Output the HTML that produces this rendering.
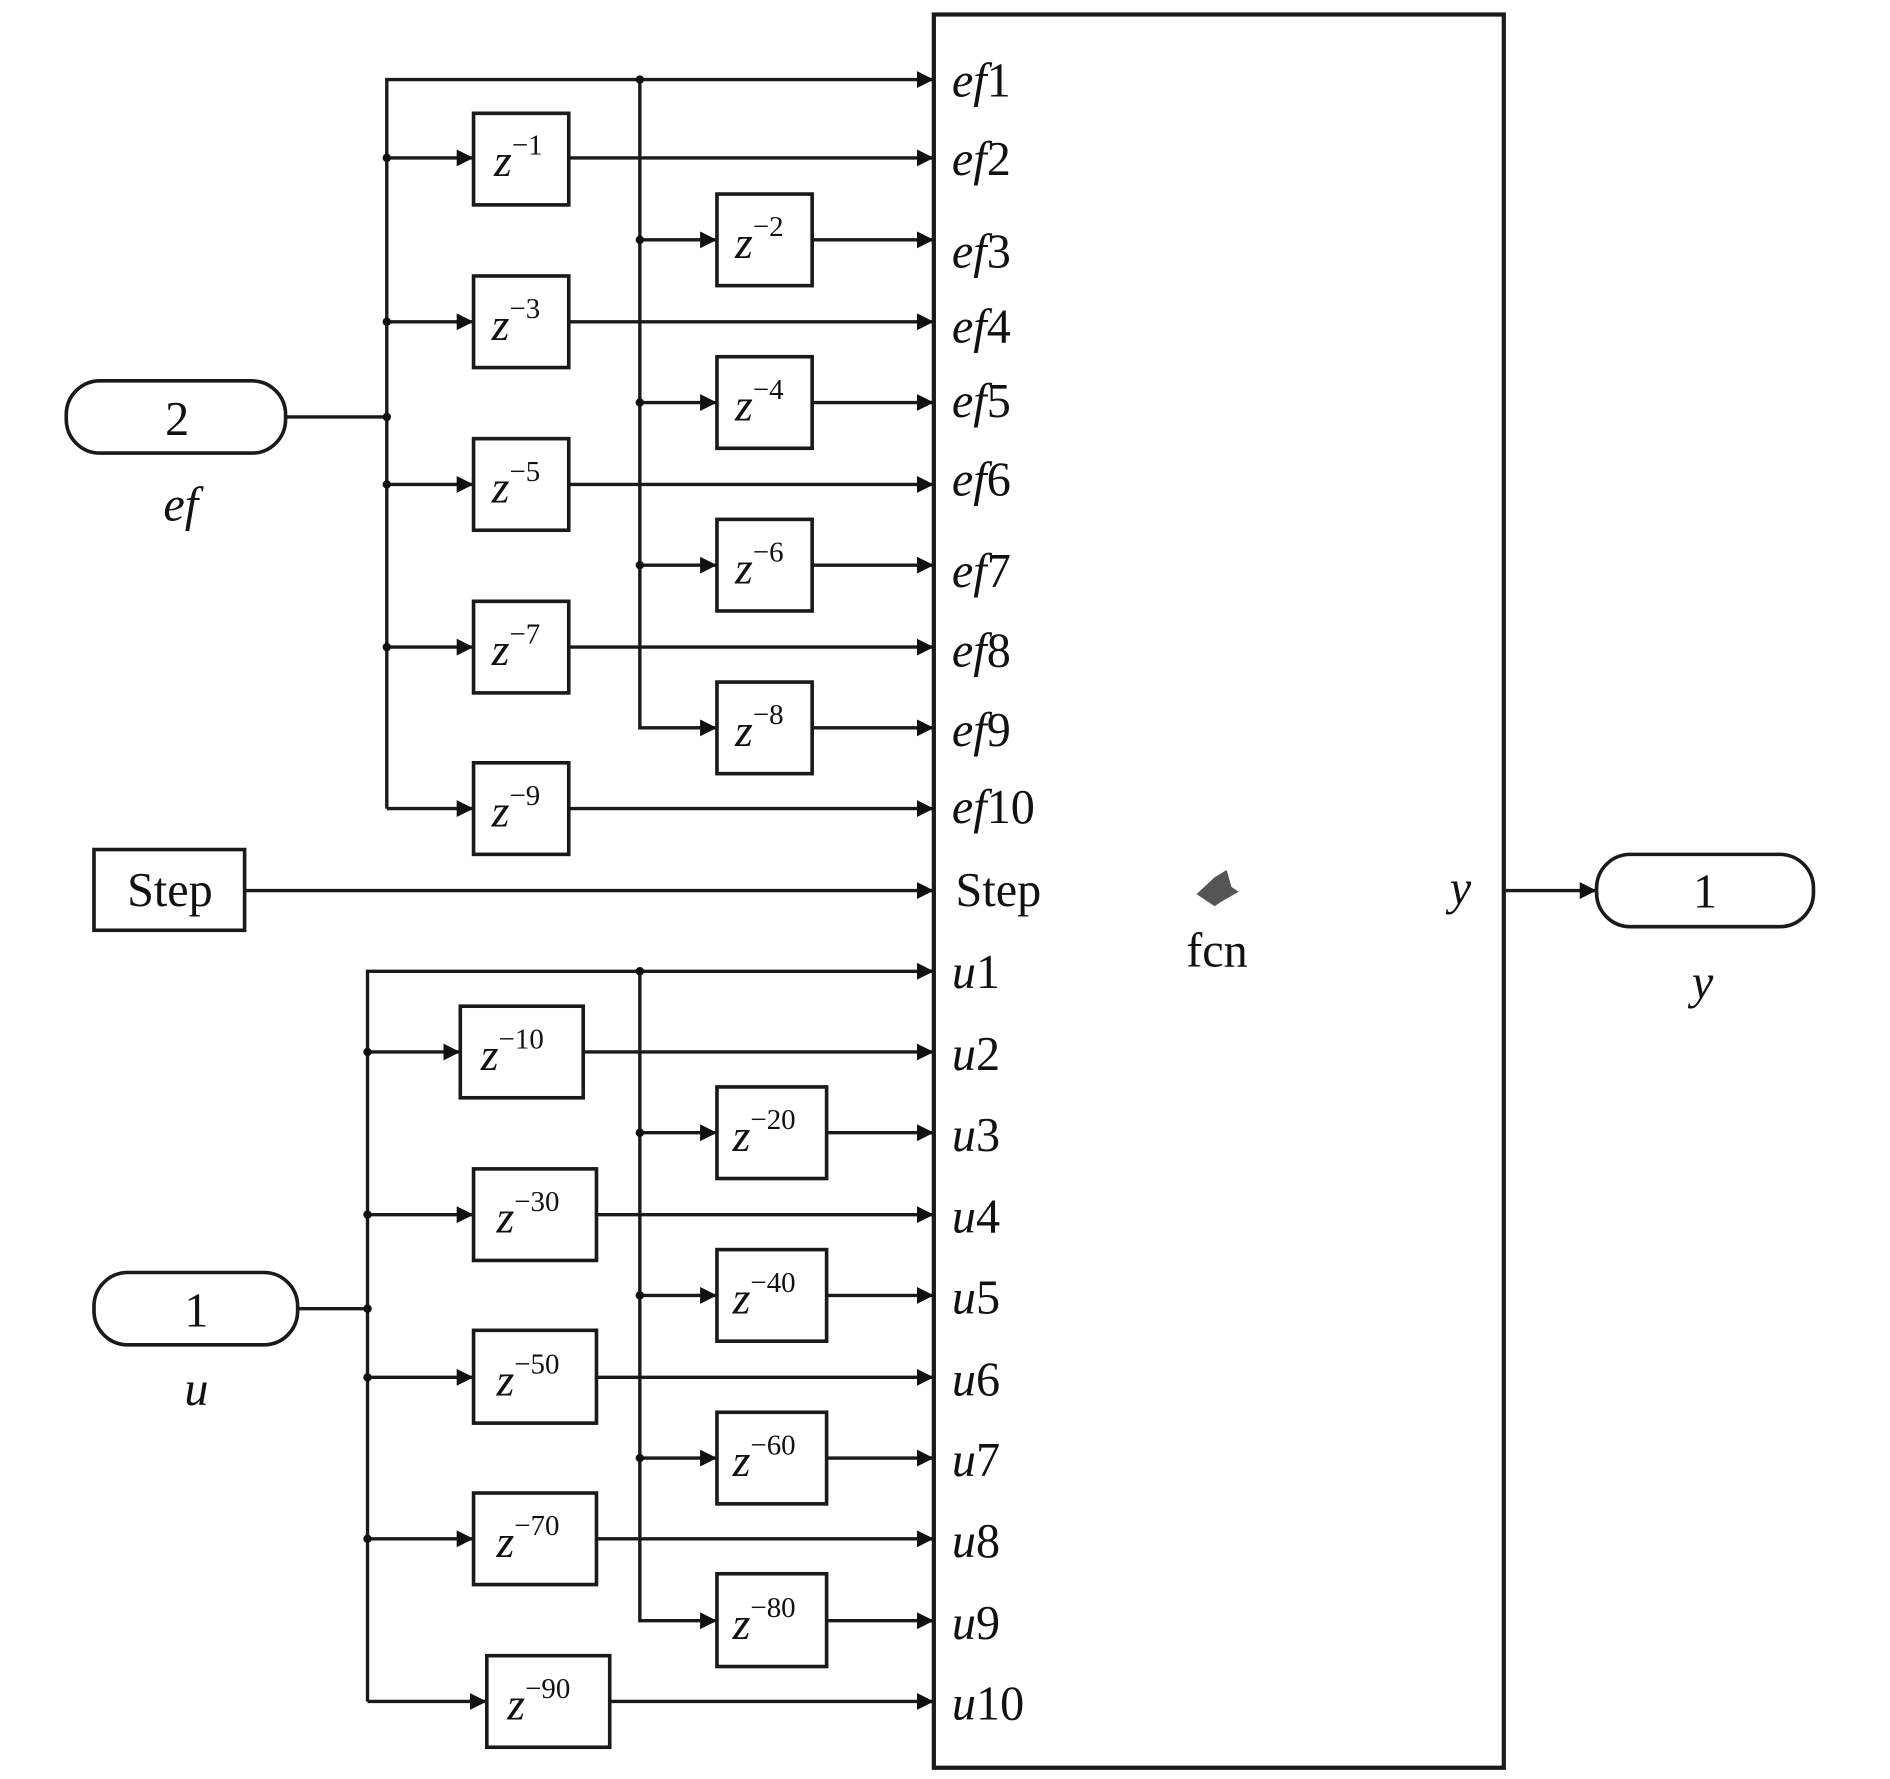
<!DOCTYPE html>
<html><head><meta charset="utf-8"><style>
html,body{margin:0;padding:0;background:#fff;}
svg{display:block;}
text{font-family:"Liberation Serif",serif;fill:#111;}
.it{font-style:italic;}
</style></head><body>
<svg width="1890" height="1779" viewBox="0 0 1568.5 1476.3" xmlns="http://www.w3.org/2000/svg">
<defs>
<marker id="a" viewBox="0 0 10 10" refX="10" refY="5" markerWidth="5" markerHeight="5" markerUnits="strokeWidth" orient="auto">
<path d="M0,0 L10,5 L0,10 z" fill="#111"/></marker>
</defs>
<g stroke="#1a1a1a" stroke-width="2.8" fill="none">
<!-- fcn box -->
<rect x="775" y="12" width="473" height="1455" stroke-width="3.5" fill="#fff"/>
<!-- ef buses -->
<path d="M321,671 L321,66 L775,66" marker-end="url(#a)"/>
<path d="M531,66 L531,604 L595,604" marker-end="url(#a)"/>
<path d="M237,346 L321,346"/>
<path d="M321,671 L393,671" marker-end="url(#a)"/>
<!-- u buses -->
<path d="M305,1412 L305,806 L775,806" marker-end="url(#a)"/>
<path d="M531,806 L531,1345 L595,1345" marker-end="url(#a)"/>
<path d="M247,1086 L305,1086"/>
<path d="M305,1412 L404,1412" marker-end="url(#a)"/>
<!-- step -->
<path d="M203,739 L775,739" marker-end="url(#a)"/>
<!-- output -->
<path d="M1248,739 L1325,739" marker-end="url(#a)"/>
<!-- left ef branches -->
<path d="M321,131 L393,131" marker-end="url(#a)"/>
<path d="M321,267 L393,267" marker-end="url(#a)"/>
<path d="M321,402 L393,402" marker-end="url(#a)"/>
<path d="M321,537 L393,537" marker-end="url(#a)"/>
<path d="M472,131 L775,131" marker-end="url(#a)"/>
<path d="M472,267 L775,267" marker-end="url(#a)"/>
<path d="M472,402 L775,402" marker-end="url(#a)"/>
<path d="M472,537 L775,537" marker-end="url(#a)"/>
<path d="M472,671 L775,671" marker-end="url(#a)"/>
<!-- right ef branches -->
<path d="M531,199 L595,199" marker-end="url(#a)"/>
<path d="M531,334 L595,334" marker-end="url(#a)"/>
<path d="M531,469 L595,469" marker-end="url(#a)"/>
<path d="M674,199 L775,199" marker-end="url(#a)"/>
<path d="M674,334 L775,334" marker-end="url(#a)"/>
<path d="M674,469 L775,469" marker-end="url(#a)"/>
<path d="M674,604 L775,604" marker-end="url(#a)"/>
<!-- left u branches -->
<path d="M305,873 L382,873" marker-end="url(#a)"/>
<path d="M305,1008 L393,1008" marker-end="url(#a)"/>
<path d="M305,1143 L393,1143" marker-end="url(#a)"/>
<path d="M305,1277 L393,1277" marker-end="url(#a)"/>
<path d="M484,873 L775,873" marker-end="url(#a)"/>
<path d="M495,1008 L775,1008" marker-end="url(#a)"/>
<path d="M495,1143 L775,1143" marker-end="url(#a)"/>
<path d="M495,1277 L775,1277" marker-end="url(#a)"/>
<path d="M506,1412 L775,1412" marker-end="url(#a)"/>
<!-- right u branches -->
<path d="M531,940 L595,940" marker-end="url(#a)"/>
<path d="M531,1075 L595,1075" marker-end="url(#a)"/>
<path d="M531,1210 L595,1210" marker-end="url(#a)"/>
<path d="M686,940 L775,940" marker-end="url(#a)"/>
<path d="M686,1075 L775,1075" marker-end="url(#a)"/>
<path d="M686,1210 L775,1210" marker-end="url(#a)"/>
<path d="M686,1345 L775,1345" marker-end="url(#a)"/>
</g>
<!-- junction dots -->
<g fill="#111">
<circle cx="321" cy="131" r="3.5"/><circle cx="321" cy="267" r="3.5"/><circle cx="321" cy="346" r="3.5"/><circle cx="321" cy="402" r="3.5"/><circle cx="321" cy="537" r="3.5"/>
<circle cx="531" cy="66" r="3.5"/><circle cx="531" cy="199" r="3.5"/><circle cx="531" cy="334" r="3.5"/><circle cx="531" cy="469" r="3.5"/>
<circle cx="305" cy="873" r="3.5"/><circle cx="305" cy="1008" r="3.5"/><circle cx="305" cy="1086" r="3.5"/><circle cx="305" cy="1143" r="3.5"/><circle cx="305" cy="1277" r="3.5"/>
<circle cx="531" cy="806" r="3.5"/><circle cx="531" cy="940" r="3.5"/><circle cx="531" cy="1075" r="3.5"/><circle cx="531" cy="1210" r="3.5"/>
</g>
<!-- delay blocks -->
<g stroke="#1a1a1a" stroke-width="3" fill="#fff">
<rect x="393" y="94" width="79" height="76"/>
<rect x="393" y="229" width="79" height="76"/>
<rect x="393" y="364" width="79" height="76"/>
<rect x="393" y="499" width="79" height="76"/>
<rect x="393" y="633" width="79" height="76"/>
<rect x="595" y="161" width="79" height="76"/>
<rect x="595" y="296" width="79" height="76"/>
<rect x="595" y="431" width="79" height="76"/>
<rect x="595" y="566" width="79" height="76"/>
<rect x="382" y="835" width="102" height="76"/>
<rect x="393" y="970" width="102" height="76"/>
<rect x="393" y="1104" width="102" height="77"/>
<rect x="393" y="1239" width="102" height="76"/>
<rect x="404" y="1374" width="102" height="76"/>
<rect x="595" y="902" width="91" height="76"/>
<rect x="595" y="1037" width="91" height="76"/>
<rect x="595" y="1172" width="91" height="76"/>
<rect x="595" y="1306" width="91" height="77"/>
<rect x="78" y="705" width="125" height="67"/>
<rect x="55" y="316" width="182" height="60" rx="28"/>
<rect x="78" y="1056" width="169" height="60" rx="28"/>
<rect x="1325" y="709" width="180" height="60" rx="28"/>
</g>
<!-- delay text -->
<g font-size="38">
<text x="410" y="146"><tspan class="it">z</tspan><tspan font-size="24" dy="-18">−1</tspan></text>
<text x="408" y="282"><tspan class="it">z</tspan><tspan font-size="24" dy="-18">−3</tspan></text>
<text x="408" y="417"><tspan class="it">z</tspan><tspan font-size="24" dy="-18">−5</tspan></text>
<text x="408" y="552"><tspan class="it">z</tspan><tspan font-size="24" dy="-18">−7</tspan></text>
<text x="408" y="686"><tspan class="it">z</tspan><tspan font-size="24" dy="-18">−9</tspan></text>
<text x="610" y="214"><tspan class="it">z</tspan><tspan font-size="24" dy="-18">−2</tspan></text>
<text x="610" y="349"><tspan class="it">z</tspan><tspan font-size="24" dy="-18">−4</tspan></text>
<text x="610" y="484"><tspan class="it">z</tspan><tspan font-size="24" dy="-18">−6</tspan></text>
<text x="610" y="619"><tspan class="it">z</tspan><tspan font-size="24" dy="-18">−8</tspan></text>
<text x="399" y="888"><tspan class="it">z</tspan><tspan font-size="24" dy="-18">−10</tspan></text>
<text x="412" y="1023"><tspan class="it">z</tspan><tspan font-size="24" dy="-18">−30</tspan></text>
<text x="412" y="1158"><tspan class="it">z</tspan><tspan font-size="24" dy="-18">−50</tspan></text>
<text x="412" y="1292"><tspan class="it">z</tspan><tspan font-size="24" dy="-18">−70</tspan></text>
<text x="421" y="1427"><tspan class="it">z</tspan><tspan font-size="24" dy="-18">−90</tspan></text>
<text x="608" y="955"><tspan class="it">z</tspan><tspan font-size="24" dy="-18">−20</tspan></text>
<text x="608" y="1090"><tspan class="it">z</tspan><tspan font-size="24" dy="-18">−40</tspan></text>
<text x="608" y="1225"><tspan class="it">z</tspan><tspan font-size="24" dy="-18">−60</tspan></text>
<text x="608" y="1360"><tspan class="it">z</tspan><tspan font-size="24" dy="-18">−80</tspan></text>
</g>
<!-- port labels -->
<g font-size="40">
<text x="790" y="80"><tspan class="it">ef</tspan>1</text>
<text x="790" y="145"><tspan class="it">ef</tspan>2</text>
<text x="790" y="222"><tspan class="it">ef</tspan>3</text>
<text x="790" y="284"><tspan class="it">ef</tspan>4</text>
<text x="790" y="346"><tspan class="it">ef</tspan>5</text>
<text x="790" y="411"><tspan class="it">ef</tspan>6</text>
<text x="790" y="487"><tspan class="it">ef</tspan>7</text>
<text x="790" y="553"><tspan class="it">ef</tspan>8</text>
<text x="790" y="619"><tspan class="it">ef</tspan>9</text>
<text x="790" y="683"><tspan class="it">ef</tspan>10</text>
<text x="793" y="752">Step</text>
<text x="790" y="820"><tspan class="it">u</tspan>1</text>
<text x="790" y="888"><tspan class="it">u</tspan>2</text>
<text x="790" y="955"><tspan class="it">u</tspan>3</text>
<text x="790" y="1023"><tspan class="it">u</tspan>4</text>
<text x="790" y="1090"><tspan class="it">u</tspan>5</text>
<text x="790" y="1158"><tspan class="it">u</tspan>6</text>
<text x="790" y="1225"><tspan class="it">u</tspan>7</text>
<text x="790" y="1292"><tspan class="it">u</tspan>8</text>
<text x="790" y="1360"><tspan class="it">u</tspan>9</text>
<text x="790" y="1427"><tspan class="it">u</tspan>10</text>
<text x="1010" y="802" text-anchor="middle">fcn</text>
<text x="1212" y="750" text-anchor="middle" class="it">y</text>
<text x="141" y="752" text-anchor="middle">Step</text>
<text x="147" y="361" text-anchor="middle">2</text>
<text x="150" y="432" text-anchor="middle" class="it">ef</text>
<text x="163" y="1101" text-anchor="middle">1</text>
<text x="163" y="1166" text-anchor="middle" class="it">u</text>
<text x="1415" y="753" text-anchor="middle">1</text>
<text x="1413" y="828" text-anchor="middle" class="it">y</text>
</g>
<!-- fcn icon -->
<path d="M993,742 L1008,728 L1018,722 L1022,736 L1028,740 L1014,748 L1008,752 Z" fill="#555"/>
</svg>
</body></html>
